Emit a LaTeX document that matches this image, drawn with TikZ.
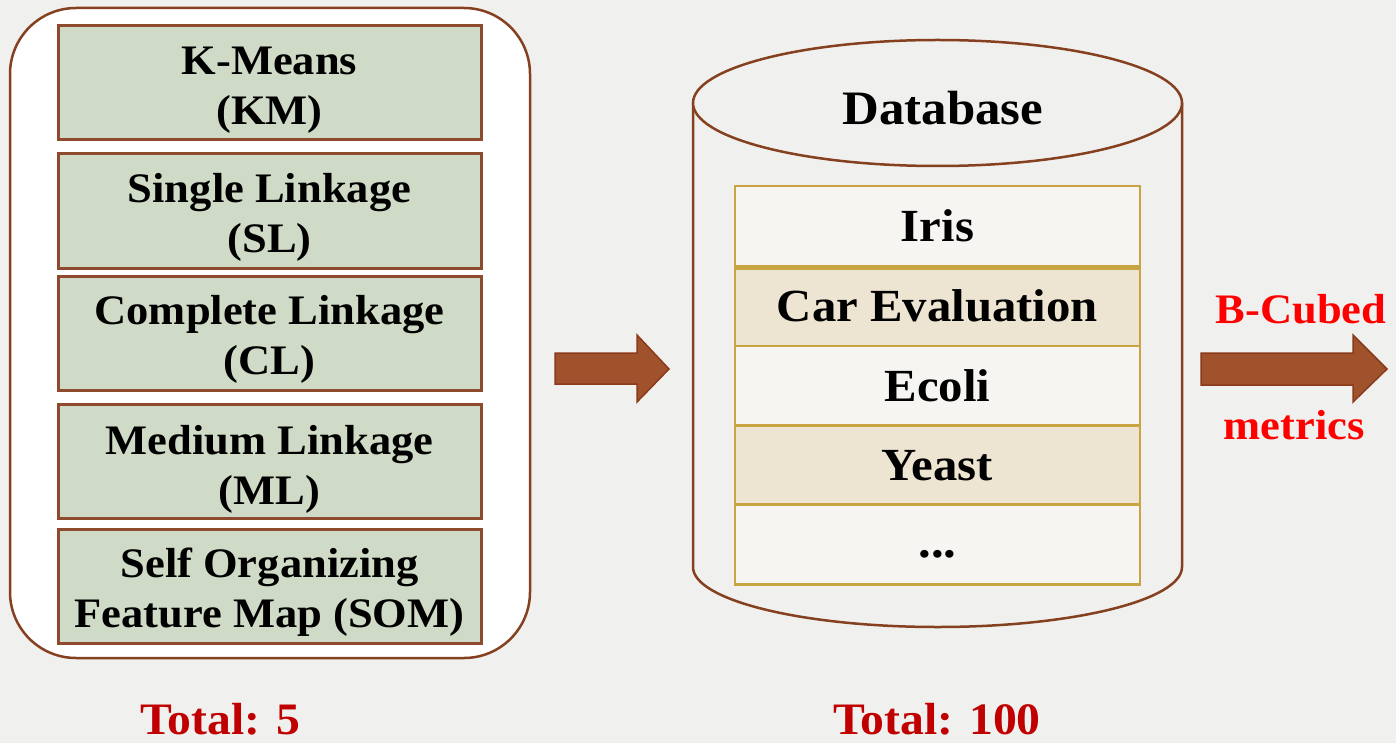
\documentclass[tikz,border=0pt]{standalone}
\usepackage{fontspec}
\setmainfont{Liberation Serif}[FakeStretch=1.06]
\usetikzlibrary{shapes.geometric}
\definecolor{bg}{HTML}{F0F0EE}
\definecolor{brownline}{HTML}{84401F}
\definecolor{boxline}{HTML}{8E4A2E}
\definecolor{greenfill}{HTML}{CFDBC6}
\definecolor{gold}{HTML}{C9A443}
\definecolor{tanfill}{HTML}{EDE5D1}
\definecolor{rowwhite}{HTML}{F6F5F2}
\definecolor{arrowfill}{HTML}{A0522D}
\definecolor{arrowline}{HTML}{8B3A1A}
\definecolor{darkred}{HTML}{C00000}
\definecolor{brightred}{HTML}{FF0000}
\tikzset{
  algbox/.style={draw=boxline, line width=3pt, fill=greenfill, minimum width=423pt, minimum height=114pt, inner sep=0pt},
  algtext/.style={inner sep=0pt, align=center, font=\fontsize{42}{50}\selectfont\bfseries},
  rowbox/.style={draw=gold, line width=2.5pt, minimum width=405pt, minimum height=80pt, inner sep=0pt, font=\fontsize{46}{54}\selectfont\bfseries},
  blockarrow/.style={fill=arrowfill, draw=arrowline, line width=1.5pt, line join=miter},
  totallabel/.style={text=darkred, font=\fontsize{45}{50}\selectfont\bfseries, inner sep=0pt},
  redlabel/.style={text=brightred, font=\fontsize{42}{50}\selectfont\bfseries, inner sep=0pt}
}
\begin{document}
\begin{tikzpicture}[x=1pt, y=-1pt]
\fill[bg] (0,0) rectangle (1396,743);
\useasboundingbox (0,0) rectangle (1396,743);
% left panel
\draw[brownline, line width=2.5pt, fill=white, rounded corners=66pt] (10,8) rectangle (530,658);
\node[algbox] (km) at (269.5,83) {};
\node[algtext] (kmt) at (269.5,90) {K-Means\\(KM)};
\node[algbox] (sl) at (269.5,211) {};
\node[algtext] (slt) at (269.5,217) {Single Linkage\\(SL)};
\node[algbox] (cl) at (269.5,333) {};
\node[algtext] (clt) at (269.5,339) {Complete Linkage\\(CL)};
\node[algbox] (ml) at (269.5,461.5) {};
\node[algtext] (mlt) at (269.5,469) {Medium Linkage\\(ML)};
\node[algbox] (som) at (269.5,586) {};
\node[algtext] (somt) at (269.5,592) {Self Organizing\\Feature Map (SOM)};
\node[totallabel] (t5) at (220,719) {Total: 5};
% arrow 1
\draw[blockarrow] (555,353) -- (637,353) -- (637,335) -- (669,369) -- (637,402) -- (637,384) -- (555,384) -- cycle;
% cylinder
\draw[brownline, line width=2.5pt, fill=bg] (693,103) -- (693,567) arc[start angle=180, end angle=0, x radius=244.5, y radius=60] -- (1182,103);
\draw[brownline, line width=2.5pt, fill=bg] (937.5,103) ellipse[x radius=244.5, y radius=63];
\node[font=\fontsize{48}{56}\selectfont\bfseries] (db) at (943,108) {Database};
\node[rowbox, fill=rowwhite] (iris) at (937.5,226) {Iris};
\node[rowbox, fill=tanfill] (car) at (937.5,306) {Car Evaluation};
\node[rowbox, fill=rowwhite] (ecoli) at (937.5,386) {Ecoli};
\node[rowbox, fill=tanfill] (yeast) at (937.5,465.5) {Yeast};
\node[rowbox, fill=rowwhite] (more) at (937.5,544.5) {};
\node[font=\fontsize{48}{56}\selectfont\bfseries] (dots) at (937.5,554) {...};
\draw[gold, line width=4.5pt] (iris.south west) -- (iris.south east);
\node[totallabel] (t100) at (937,719) {Total: 100};
% arrow 2
\draw[blockarrow] (1201,353) -- (1353,353) -- (1353,335) -- (1387,369) -- (1353,402) -- (1353,385) -- (1201,385) -- cycle;
\node[redlabel] (bc) at (1301,309) {B-Cubed};
\node[redlabel] (met) at (1294,425) {metrics};
\end{tikzpicture}
\end{document}
